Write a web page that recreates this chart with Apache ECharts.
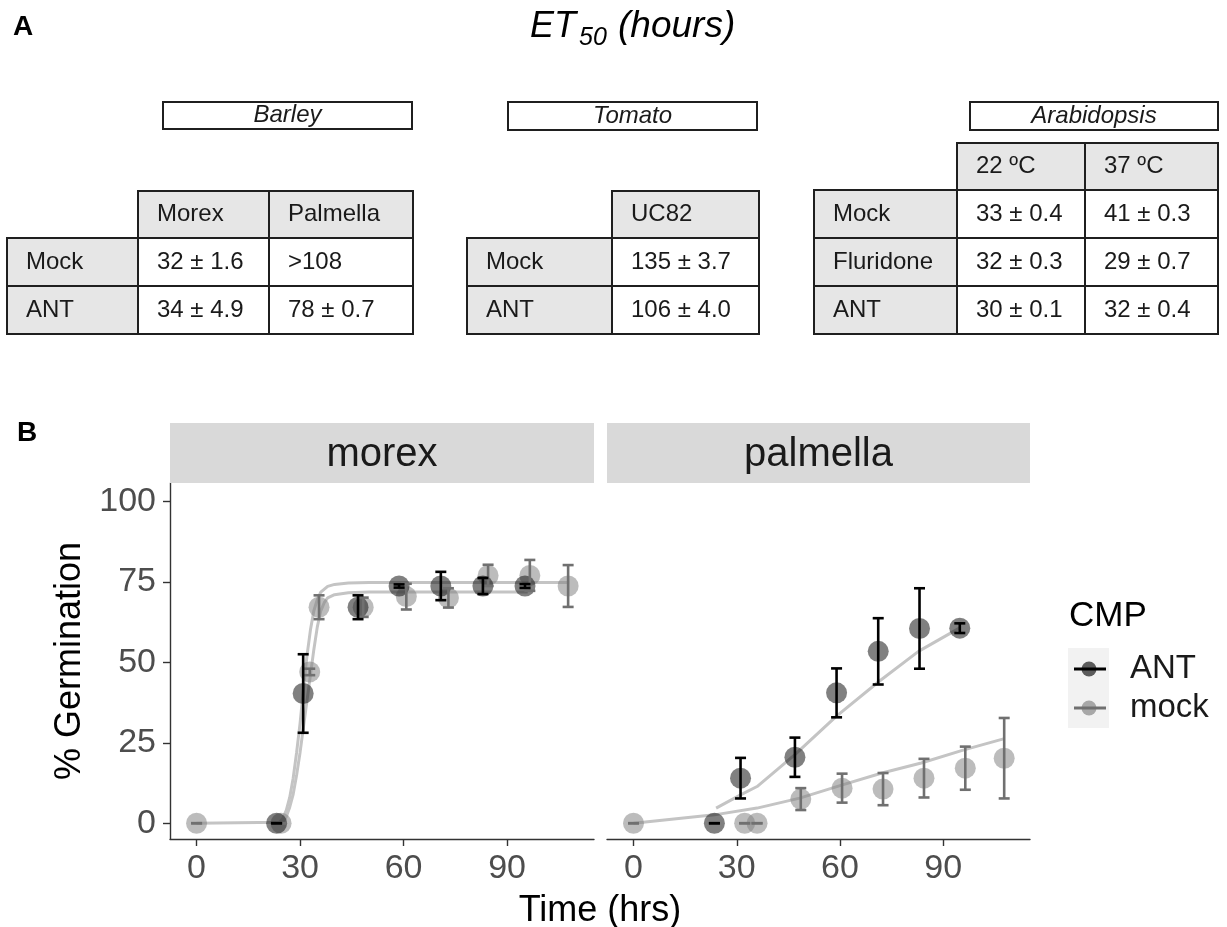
<!DOCTYPE html>
<html>
<head>
<meta charset="utf-8">
<script src="https://cdn.jsdelivr.net/npm/echarts@6/dist/echarts.min.js"></script>
<style>
  html, body { margin: 0; padding: 0; background: #fff; }
  #chart { width: 1227px; height: 927px; }
</style>
</head>
<body>
<div id="chart"></div>
<script>
// ---- panel A : ET50 tables ----
const barleyCols = ["Morex", "Palmella"];
const barleyRows = ["Mock", "ANT"];
const barleyVals = [["32 ± 1.6", ">108"], ["34 ± 4.9", "78 ± 0.7"]];

const tomatoCols = ["UC82"];
const tomatoRows = ["Mock", "ANT"];
const tomatoVals = [["135 ± 3.7"], ["106 ± 4.0"]];

const arabCols = ["22 ºC", "37 ºC"];
const arabRows = ["Mock", "Fluridone", "ANT"];
const arabVals = [["33 ± 0.4", "41 ± 0.3"], ["32 ± 0.3", "29 ± 0.7"], ["30 ± 0.1", "32 ± 0.4"]];

// ---- panel B : germination (hrs, %) ----
const xTicks = [0, 30, 60, 90];
const yTicks = [0, 25, 50, 75, 100];

// morex
const morexAntX = [23.2, 30.9, 46.8, 58.7, 70.8, 83.0, 95.2];
const morexAntY = [0, 40.3, 67.1, 73.7, 73.7, 73.7, 73.7];
const morexAntErr = [0, 12.2, 3.7, 0.5, 4.4, 2.5, 0.6];
const morexMockX = [0, 24.5, 32.8, 35.5, 48.3, 60.8, 73.0, 84.5, 96.6, 107.7];
const morexMockY = [0, 0, 47, 67.1, 67.1, 70.4, 70.0, 77.0, 77.0, 73.7];
const morexMockErr = [0, 0, 1, 3.7, 3, 4, 3, 3.3, 4.8, 6.5];
// fitted curves
const morexMockFitX = [0, 24, 25, 26, 27, 28, 29, 30, 31, 32, 33, 34, 35, 36, 38, 40, 44, 50, 108];
const morexMockFitY = [0, 0.3, 1.5, 4, 8, 14, 22, 31, 42, 52, 60, 66, 69.5, 71.8, 73.6, 74.2, 74.6, 74.8, 74.8];
const morexAntFitX = [24, 25, 26, 27, 28, 29, 30, 31, 32, 33, 34, 35, 36, 37, 38, 40, 44, 50, 96];
const morexAntFitY = [0, 0.5, 2, 5, 9, 15, 22, 30, 38, 46, 54, 61, 66, 68.5, 70, 71, 71.6, 71.8, 71.8];

// palmella
const palmAntX = [23.5, 31.1, 46.9, 59.0, 71.1, 83.1, 94.8];
const palmAntY = [0, 14, 20.5, 40.5, 53.4, 60.5, 60.6];
const palmAntErr = [0, 6.3, 6.1, 7.6, 10.3, 12.5, 1.5];
const palmMockX = [0, 32.3, 35.9, 48.6, 60.6, 72.5, 84.4, 96.4, 107.7];
const palmMockY = [0, 0, 0, 7.5, 10.9, 10.6, 14, 17.1, 20.2];
const palmMockErr = [0, 0, 0, 3.4, 4.5, 5, 6, 6.7, 12.5];
const palmMockFitX = [0, 23.5, 35.9, 48.3, 60.7, 72.2, 83.6, 96, 107.5];
const palmMockFitY = [0, 2.6, 4.7, 7.8, 11.9, 15.6, 18.7, 22.8, 26.2];
const palmAntFitX = [24, 31.1, 35.9, 46.9, 58.9, 71.4, 82.8, 94.8];
const palmAntFitY = [4.7, 8.8, 11.4, 21.3, 33.2, 44.1, 53.4, 60.7];

const FONT = '"Liberation Sans", Arial, sans-serif';
const antFill = "rgba(20,20,20,0.68)";
const mockFill = "rgba(132,132,132,0.68)";
const antBar = "#000000";
const mockBar = "#707070";
const fitColor = "#C4C4C4";

function pairs(xs, ys) {
    return xs.map((v, i) => [v, ys[i]]);
}
function bars(xs, ys, es) {
    return xs.map((v, i) => [v, ys[i] - es[i], ys[i] + es[i]]);
}

function txt(x, y, text, size, opts) {
    opts = opts || {};
    return {
        type: "text", x: x, y: y, rotation: opts.rotation || 0, z: 10,
        style: {
            text: text,
            font: (opts.style || "") + " " + size + "px " + FONT,
            fill: opts.color || "#1a1a1a",
            align: opts.align || "left",
            verticalAlign: "middle"
        }
    };
}

function cell(x, y, w, h, fill) {
    return {
        type: "rect", z: 5,
        shape: {x: x, y: y, width: w, height: h},
        style: {fill: fill, stroke: "#1f1f1f", lineWidth: 2}
    };
}

// table: colEdges = x edges (label col + data cols), rowEdges = y edges (header row + data rows)
function table(colEdges, rowEdges, cols, rows, vals) {
    const out = [];
    const pad = 19;
    cols.forEach((c, j) => {
        const x0 = colEdges[j + 1], x1 = colEdges[j + 2];
        out.push(cell(x0, rowEdges[0], x1 - x0, rowEdges[1] - rowEdges[0], "#E6E6E6"));
        out.push(txt(x0 + pad, (rowEdges[0] + rowEdges[1]) / 2, c, 24));
    });
    rows.forEach((r, i) => {
        const y0 = rowEdges[i + 1], y1 = rowEdges[i + 2];
        out.push(cell(colEdges[0], y0, colEdges[1] - colEdges[0], y1 - y0, "#E6E6E6"));
        out.push(txt(colEdges[0] + pad, (y0 + y1) / 2, r, 24));
        vals[i].forEach((v, j) => {
            const x0 = colEdges[j + 1], x1 = colEdges[j + 2];
            out.push(cell(x0, y0, x1 - x0, y1 - y0, "#ffffff"));
            out.push(txt(x0 + pad, (y0 + y1) / 2, v, 24));
        });
    });
    return out;
}

function caption(x, y, w, h, text) {
    return [
        cell(x, y, w, h, "#ffffff"),
        txt(x + w / 2, y + h / 2, text, 24, {style: "italic", align: "center"})
    ];
}

function errorBarRender(color) {
    return function (params, api) {
        const x = api.value(0);
        const lo = api.coord([x, api.value(1)]);
        const hi = api.coord([x, api.value(2)]);
        const w = 5.5;
        const style = {stroke: color, lineWidth: 2.6};
        return {
            type: "group",
            children: [
                {type: "line", shape: {x1: lo[0], y1: lo[1], x2: hi[0], y2: hi[1]}, style: style},
                {type: "line", shape: {x1: lo[0] - w, y1: lo[1], x2: lo[0] + w, y2: lo[1]}, style: style},
                {type: "line", shape: {x1: hi[0] - w, y1: hi[1], x2: hi[0] + w, y2: hi[1]}, style: style}
            ]
        };
    };
}

const graphics = [].concat(
    [
        txt(13, 27, "A", 28, {style: "bold", color: "#000"}),
        txt(530, 27, "ET", 36, {style: "italic", color: "#000"}),
        txt(579, 38, "50", 25, {style: "italic", color: "#000"}),
        txt(618, 27, "(hours)", 37, {style: "italic", color: "#000"})
    ],
    caption(163, 102, 249, 27, "Barley"),
    caption(508, 102, 249, 28, "Tomato"),
    caption(970, 102, 248, 28, "Arabidopsis"),
    table([7, 138, 269, 413], [191, 238, 286, 334], barleyCols, barleyRows, barleyVals),
    table([467, 612, 759], [191, 238, 286, 334], tomatoCols, tomatoRows, tomatoVals),
    table([814, 957, 1085, 1218], [143, 190, 238, 286, 334], arabCols, arabRows, arabVals),
    [
        txt(17, 433, "B", 28, {style: "bold", color: "#000"}),
        // facet strips
        {type: "rect", z: 1, shape: {x: 170, y: 423, width: 424, height: 60}, style: {fill: "#D9D9D9"}},
        {type: "rect", z: 1, shape: {x: 607, y: 423, width: 423, height: 60}, style: {fill: "#D9D9D9"}},
        txt(382, 455, "morex", 40, {align: "center"}),
        txt(818.5, 455, "palmella", 40, {align: "center"}),
        // axis titles
        txt(70, 661, "% Germination", 36, {align: "center", rotation: Math.PI / 2, color: "#000"}),
        txt(600, 911, "Time (hrs)", 36, {align: "center", color: "#000"}),
        // legend
        txt(1069, 616, "CMP", 35, {color: "#000"}),
        {type: "rect", z: 5, shape: {x: 1068, y: 648, width: 41, height: 80}, style: {fill: "#F2F2F2"}},
        {type: "circle", z: 6, shape: {cx: 1089, cy: 669, r: 7.5}, style: {fill: antFill}},
        {type: "line", z: 7, shape: {x1: 1074, y1: 669, x2: 1106, y2: 669}, style: {stroke: antBar, lineWidth: 3}},
        {type: "circle", z: 6, shape: {cx: 1089, cy: 708, r: 7.5}, style: {fill: mockFill}},
        {type: "line", z: 7, shape: {x1: 1074, y1: 708, x2: 1106, y2: 708}, style: {stroke: mockBar, lineWidth: 3}},
        txt(1130, 669, "ANT", 33),
        txt(1130, 708, "mock", 33)
    ]
);

function xAxis(idx) {
    return {
        type: "value", gridIndex: idx, min: -7.7, max: 115.2,
        axisLine: {show: true, onZero: false, lineStyle: {color: "#333", width: 1.4}},
        axisTick: {show: true, customValues: xTicks, length: 7, lineStyle: {color: "#333", width: 1.4}},
        axisLabel: {customValues: xTicks, fontSize: 34, color: "#4D4D4D", margin: 13, fontFamily: FONT},
        splitLine: {show: false}
    };
}
function yAxis(idx, visible) {
    return {
        type: "value", gridIndex: idx, min: -4.9, max: 105.7,
        axisLine: {show: visible, onZero: false, lineStyle: {color: "#333", width: 1.4}},
        axisTick: {show: visible, customValues: yTicks, length: 7, lineStyle: {color: "#333", width: 1.4}},
        axisLabel: {show: visible, customValues: yTicks, fontSize: 34, color: "#4D4D4D", margin: 14, fontFamily: FONT},
        splitLine: {show: false}
    };
}

function fitLine(idx, xs, ys) {
    return {
        type: "line", xAxisIndex: idx, yAxisIndex: idx, data: pairs(xs, ys),
        showSymbol: false, symbol: "none", z: 1,
        lineStyle: {color: fitColor, width: 3}
    };
}
function points(idx, xs, ys, color) {
    return {
        type: "scatter", xAxisIndex: idx, yAxisIndex: idx, data: pairs(xs, ys),
        symbolSize: 21, z: 2, itemStyle: {color: color}
    };
}
function errBars(idx, xs, ys, es, color) {
    return {
        type: "custom", xAxisIndex: idx, yAxisIndex: idx, data: bars(xs, ys, es),
        encode: {x: 0, y: [1, 2]}, z: 3, renderItem: errorBarRender(color)
    };
}

const chart = echarts.init(document.getElementById("chart"));
chart.setOption({
    animation: false,
    backgroundColor: "#ffffff",
    grid: [
        {left: 170, top: 483, width: 424, height: 356},
        {left: 607, top: 483, width: 423, height: 356}
    ],
    xAxis: [xAxis(0), xAxis(1)],
    yAxis: [yAxis(0, true), yAxis(1, false)],
    graphic: graphics,
    series: [
        fitLine(0, morexMockFitX, morexMockFitY),
        fitLine(0, morexAntFitX, morexAntFitY),
        fitLine(1, palmMockFitX, palmMockFitY),
        fitLine(1, palmAntFitX, palmAntFitY),
        points(0, morexMockX, morexMockY, mockFill),
        points(0, morexAntX, morexAntY, antFill),
        points(1, palmMockX, palmMockY, mockFill),
        points(1, palmAntX, palmAntY, antFill),
        errBars(0, morexMockX, morexMockY, morexMockErr, mockBar),
        errBars(0, morexAntX, morexAntY, morexAntErr, antBar),
        errBars(1, palmMockX, palmMockY, palmMockErr, mockBar),
        errBars(1, palmAntX, palmAntY, palmAntErr, antBar)
    ]
});
</script>
</body>
</html>
